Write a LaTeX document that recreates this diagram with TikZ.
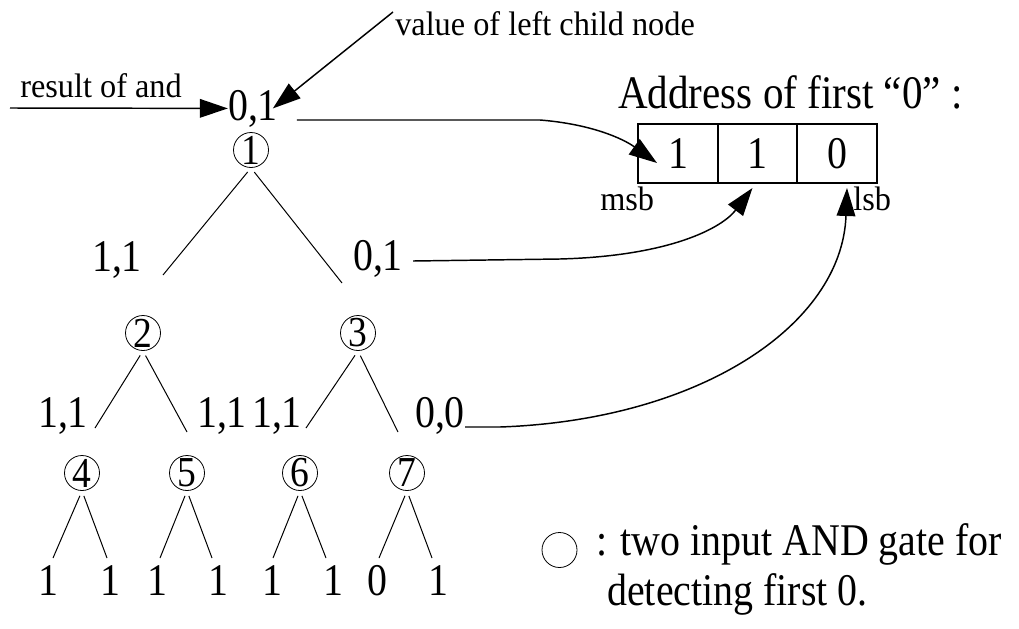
\documentclass[tikz,border=0pt]{standalone}
\usepackage{fontspec}
\usetikzlibrary{arrows.meta}
\newfontfamily\serifcond[FakeStretch=0.88]{Liberation Serif}
\newfontfamily\serifnarrow[FakeStretch=0.95]{Liberation Serif}
\newcommand\bigtxt{\serifcond\fontsize{34pt}{40pt}\selectfont}
\newcommand\addrtxt{\serifcond\fontsize{35pt}{42pt}\selectfont}
\newcommand\gatetxt{\serifcond\fontsize{32pt}{36pt}\selectfont}
\newcommand\smalltxt{\serifnarrow\fontsize{25.5pt}{30pt}\selectfont}
\tikzset{
  gate/.style={circle, draw, line width=0.6pt, minimum size=26.25pt, inner sep=0pt, font=\gatetxt},
  val/.style={inner sep=0pt, anchor=base, font=\bigtxt},
  note/.style={inner sep=0pt, anchor=base west, font=\smalltxt},
  cell/.style={draw, line width=1.1pt, minimum width=60pt, minimum height=44.25pt, inner sep=0pt, outer sep=0pt, font=\bigtxt},
  branch/.style={line width=0.75pt, shorten <=4pt},
  arr/.style={line width=1.1pt, -{Triangle[length=21pt, width=14pt]}},
}
\begin{document}
\begin{tikzpicture}[x=0.75pt, y=-0.75pt]
\useasboundingbox (0,0) rectangle (1019,628);

% AND gates of the tree
\node[gate] (g1) at (251,150) {1};
\node[gate] (g2) at (143,333) {2};
\node[gate] (g3) at (358,333) {3};
\node[gate] (g4) at (82,473) {4};
\node[gate] (g5) at (187,473) {5};
\node[gate] (g6) at (300,473) {6};
\node[gate] (g7) at (407,473) {7};

% branch end points
\coordinate (b1l) at (163,275); \coordinate (b1r) at (342,283);
\coordinate (b2l) at (95,428);  \coordinate (b2r) at (187,432);
\coordinate (b3l) at (306,428); \coordinate (b3r) at (398,432);
\coordinate (b4l) at (53,558);  \coordinate (b4r) at (107,558);
\coordinate (b5l) at (160,558); \coordinate (b5r) at (212,558);
\coordinate (b6l) at (273,558); \coordinate (b6r) at (326,558);
\coordinate (b7l) at (379,558); \coordinate (b7r) at (432,558);

\foreach \g in {1,...,7}{
  \draw[branch] (g\g.south) -- (b\g l);
  \draw[branch] (g\g.south) -- (b\g r);
}

% output pairs
\node[val] (v01) at (253,120) {0,1};
\node[val] (v11a) at (117,271) {1,1};
\node[val] (v01b) at (378,270) {0,1};
\node[val] (v11b) at (63,427) {1,1};
\node[val] (v11c) at (222,427) {1,1};
\node[val] (v11d) at (277,427) {1,1};
\node[val] (v00) at (440,427) {0,0};

% leaf inputs
\node[val] (x1) at (48,595) {1};
\node[val] (x2) at (110,595) {1};
\node[val] (x3) at (157,595) {1};
\node[val] (x4) at (218,595) {1};
\node[val] (x5) at (272,595) {1};
\node[val] (x6) at (333,595) {1};
\node[val] (x7) at (377,595) {0};
\node[val] (x8) at (438,595) {1};

% annotations at the root
\node[note] (tres) at (20,97) {result of and};
\node[note] (tleft) at (395,35) {value of left child node};
\coordinate (rin) at (10,108);
\coordinate (lin) at (393,12);
\draw[arr] (rin) -- (v01.west);
\draw[arr] (lin) -- ([xshift=-4pt]v01.east);

% address register
\node[inner sep=0pt, anchor=base west, font=\addrtxt] (taddr) at (618,108) {Address of first “0” :};
\node[cell] (c1) at (678,153.5) {1};
\node[cell] (c2) at (757.5,153.5) {1};
\node[cell] (c3) at (837,153.5) {0};
\node[note] (msb) at (600,210) {msb};
\node[note] (lsb) at (853,210) {lsb};

% address bits
\draw[arr] ([xshift=14pt]v01.base east) -- (540,120)
  .. controls (590,124) and (622,138) .. ([shift={(-21,9.5)}]c1.center);
\draw[arr] ([shift={(10,-9)}]v01b.base east) -- (560,259)
  .. controls (670,256) and (722,228) .. ([shift={(-5,5)}]c2.south);
\draw[arr] (v00.base east) -- (500,427)
  .. controls (700,420) and (842,325) .. ([shift={(10,5)}]c3.south);

% legend
\node[gate, minimum size=26.25pt] (lg) at (559.5,550) {};
\node[inner sep=0pt, anchor=base west, font=\bigtxt] (leg1) at (596,555) {: two input AND gate for};
\node[inner sep=0pt, anchor=base west, font=\bigtxt] (leg2) at (607,605) {detecting first 0.};
\end{tikzpicture}
\end{document}
